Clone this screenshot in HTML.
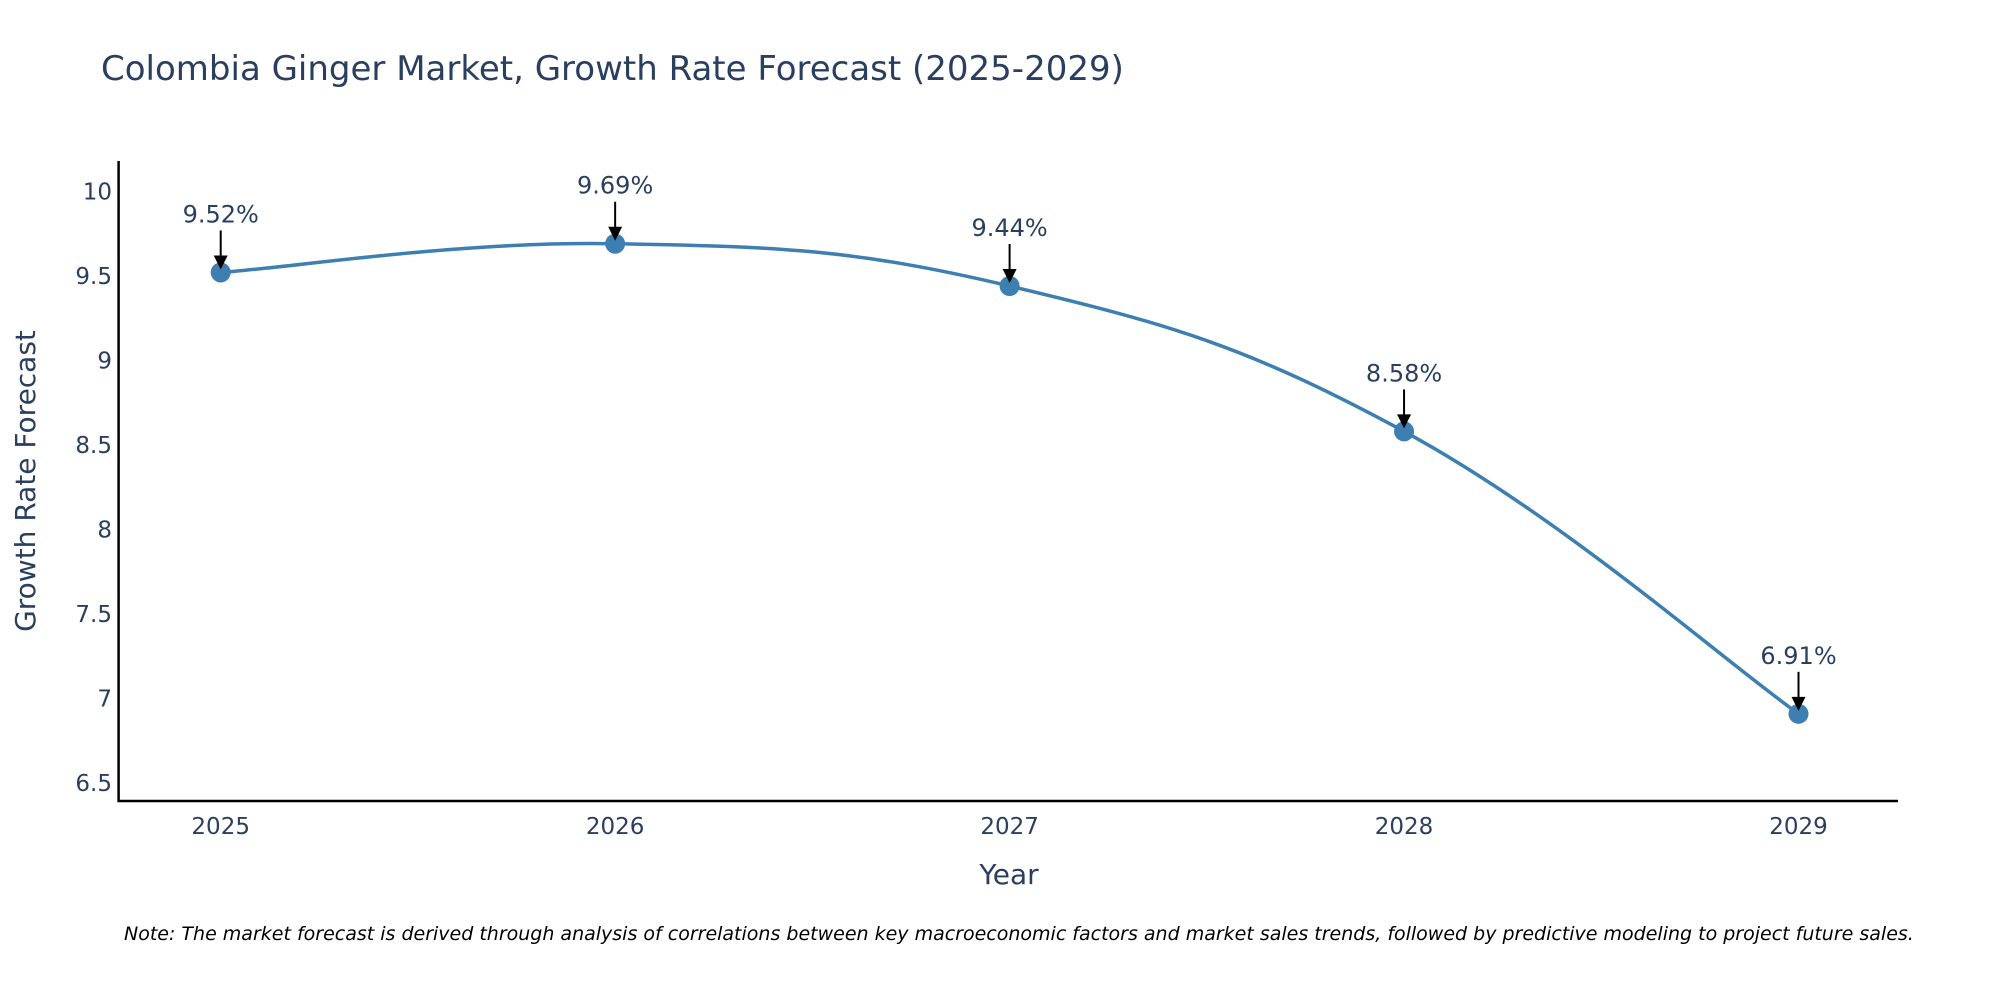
<!DOCTYPE html>
<html><head><meta charset="utf-8"><style>
body{margin:0;background:#fff}
svg{display:block;font-family:"DejaVu Sans","Liberation Sans",sans-serif}
</style></head><body>
<svg id="chart" width="2000" height="1000">
<text x="101" y="80" font-size="34" fill="#2a3f5f">Colombia Ginger Market, Growth Rate Forecast (2025-2029)</text>
<g id="yticks"></g>
<g id="xticks"></g>
<line x1="118.6" y1="161" x2="118.6" y2="802" stroke="#000" stroke-width="2.5"/>
<line x1="117.5" y1="801" x2="1898" y2="801" stroke="#000" stroke-width="2.5"/>
<text transform="translate(35,481) rotate(-90)" text-anchor="middle" font-size="28" fill="#2a3f5f">Growth Rate Forecast</text>
<text x="1009" y="884" text-anchor="middle" font-size="28" fill="#2a3f5f">Year</text>
<g id="series"></g>
<text x="124" y="940" font-size="19" font-style="italic" fill="#000">Note: The market forecast is derived through analysis of correlations between key macroeconomic factors and market sales trends, followed by predictive modeling to project future sales.</text>
</svg>
<script>
const years = [2025, 2026, 2027, 2028, 2029];
const values = [9.52, 9.69, 9.44, 8.58, 6.91];
const yTicks = [6.5, 7, 7.5, 8, 8.5, 9, 9.5, 10];
const NS = "http://www.w3.org/2000/svg";
const xs = y => 220.7 + (y - 2025) * 394.45;
const ys = v => 191.3 + (10 - v) * 169.1;
function mk(tag, attrs, parent, txt){const e=document.createElementNS(NS,tag);for(const k in attrs)e.setAttribute(k,attrs[k]);if(txt!==undefined)e.textContent=txt;parent.appendChild(e);return e;}
const yg=document.getElementById('yticks');
yTicks.forEach(t=>{const e=mk('text',{x:112,y:ys(t)+8,'text-anchor':'end','font-size':23,fill:'#2a3f5f'},yg,String(t));

});
const xg=document.getElementById('xticks');
years.forEach(y=>{const e=mk('text',{x:xs(y),y:834,'text-anchor':'middle','font-size':23,fill:'#2a3f5f'},xg,String(y));

});
const g=document.getElementById('series');
const P=years.map((y,i)=>[xs(y),ys(values[i])]);
let d=`M${P[0][0]},${P[0][1]}`;const s=0.2;
for(let i=0;i<P.length-1;i++){const p0=P[Math.max(0,i-1)],p1=P[i],p2=P[i+1],p3=P[Math.min(P.length-1,i+2)];
d+=` C${p1[0]+(p2[0]-p0[0])*s},${p1[1]+(p2[1]-p0[1])*s} ${p2[0]-(p3[0]-p1[0])*s},${p2[1]-(p3[1]-p1[1])*s} ${p2[0]},${p2[1]}`;}
const line=mk('path',{d:d,fill:'none',stroke:'#3d7fb0','stroke-width':3.5},g);


P.forEach((p,i)=>{
const c=mk('circle',{cx:p[0],cy:p[1],r:10,fill:'#3d7fb0'},g);


const a=mk('line',{x1:p[0],y1:p[1]-42,x2:p[0],y2:p[1]-14,stroke:'#000','stroke-width':2},g);


const h=mk('polygon',{points:`${p[0]-7},${p[1]-17} ${p[0]+7},${p[1]-17} ${p[0]},${p[1]-3}`,fill:'#000'},g);


const t=mk('text',{x:p[0],y:p[1]-50,'text-anchor':'middle','font-size':24,fill:'#2a3f5f'},g,values[i].toFixed(2)+'%');


});
</script>
</body></html>
